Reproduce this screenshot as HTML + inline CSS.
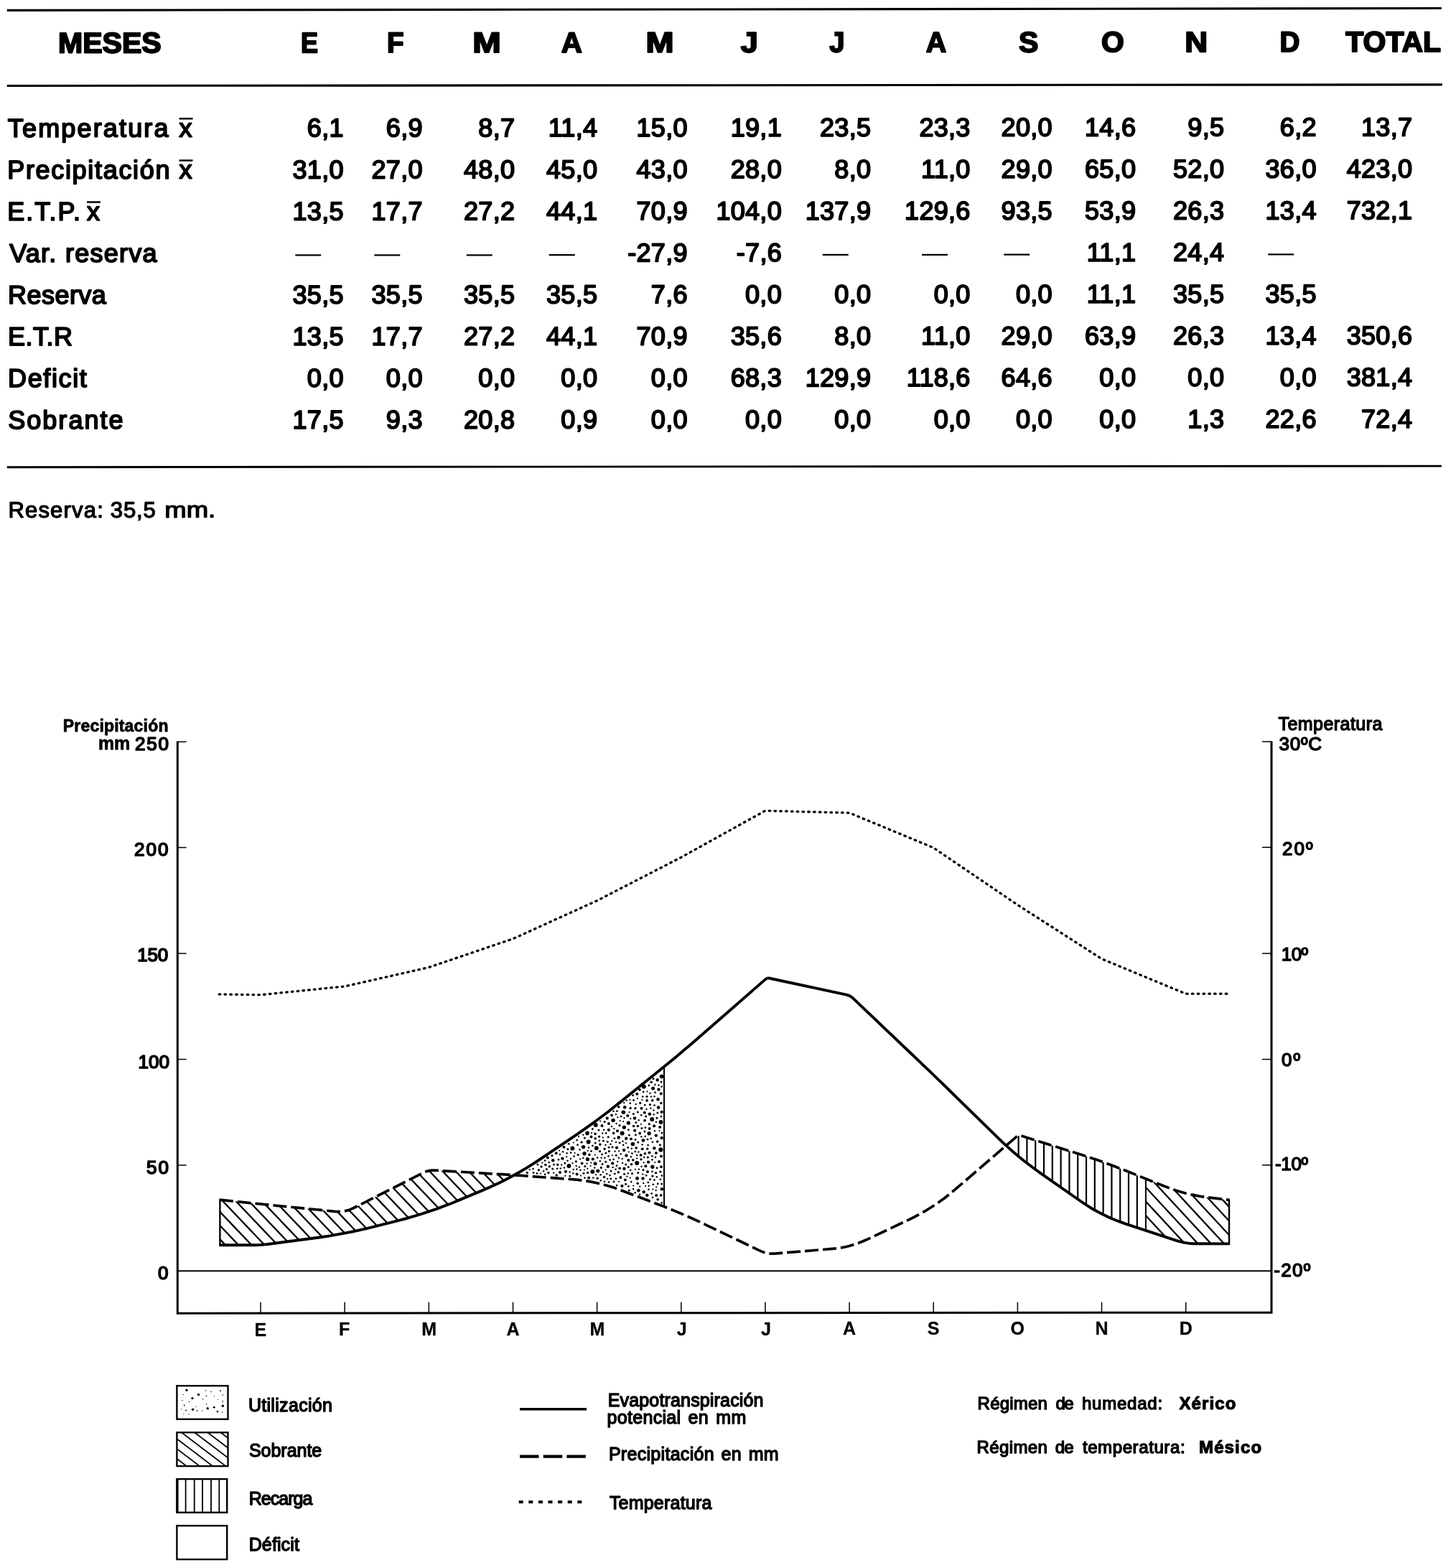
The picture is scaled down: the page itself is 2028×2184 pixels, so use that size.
<!DOCTYPE html>
<html lang="es">
<head>
<meta charset="utf-8">
<title>Balance hídrico</title>
<style>
html,body{margin:0;padding:0;background:#fff;}
body{width:2028px;height:2184px;overflow:hidden;}
svg{display:block;font-family:"Liberation Sans",sans-serif;fill:#000;}
text{white-space:pre;}
</style>
</head>
<body>
<svg width="2028" height="2184" viewBox="0 0 2028 2184" role="img" aria-label="Balance hídrico: tabla mensual y diagrama de precipitación, evapotranspiración y temperatura">
<rect width="2028" height="2184" fill="#fff"/>
<g id="tabla" transform="matrix(1 -0.0008 0 1 0 0.12)">
<polygon points="9.8,12.7 2007.8,11.5 2007.8,14.6 9.8,15.8" fill="#000"/>
<rect x="9.8" y="117.85" width="1999" height="3.1" fill="#000"/>
<rect x="9.8" y="649.15" width="1998" height="2.9" fill="#000"/>
<text transform="translate(80.95 73.4) scale(1.0270 1)" font-size="40" font-weight="bold" stroke="#000" stroke-width="2.0" stroke-linejoin="round">MESES</text>
<text transform="translate(419.00 73.4) scale(0.9000 1)" font-size="40" font-weight="bold" stroke="#000" stroke-width="2.0" stroke-linejoin="round">E</text>
<text transform="translate(538.97 73.4) scale(0.9636 1)" font-size="40" font-weight="bold" stroke="#000" stroke-width="2.0" stroke-linejoin="round">F</text>
<text transform="translate(658.23 73.4) scale(1.1867 1)" font-size="40" font-weight="bold" stroke="#000" stroke-width="2.0" stroke-linejoin="round">M</text>
<text transform="translate(781.80 73.4) scale(1.0069 1)" font-size="40" font-weight="bold" stroke="#000" stroke-width="2.0" stroke-linejoin="round">A</text>
<text transform="translate(899.55 73.4) scale(1.1733 1)" font-size="40" font-weight="bold" stroke="#000" stroke-width="2.0" stroke-linejoin="round">M</text>
<text transform="translate(1031.80 73.4) scale(1.0810 1)" font-size="40" font-weight="bold" stroke="#000" stroke-width="2.0" stroke-linejoin="round">J</text>
<text transform="translate(1155.20 73.4) scale(0.9571 1)" font-size="40" font-weight="bold" stroke="#000" stroke-width="2.0" stroke-linejoin="round">J</text>
<text transform="translate(1289.80 73.4) scale(0.9862 1)" font-size="40" font-weight="bold" stroke="#000" stroke-width="2.0" stroke-linejoin="round">A</text>
<text transform="translate(1418.90 73.4) scale(1.0231 1)" font-size="40" font-weight="bold" stroke="#000" stroke-width="2.0" stroke-linejoin="round">S</text>
<text transform="translate(1533.88 73.4) scale(1.0207 1)" font-size="40" font-weight="bold" stroke="#000" stroke-width="2.0" stroke-linejoin="round">O</text>
<text transform="translate(1650.19 73.4) scale(1.1040 1)" font-size="40" font-weight="bold" stroke="#000" stroke-width="2.0" stroke-linejoin="round">N</text>
<text transform="translate(1782.47 73.4) scale(0.9654 1)" font-size="40" font-weight="bold" stroke="#000" stroke-width="2.0" stroke-linejoin="round">D</text>
<text transform="translate(1874.32 73.4) scale(1.0238 1)" font-size="40" font-weight="bold" stroke="#000" stroke-width="2.0" stroke-linejoin="round">TOTAL</text>
<text x="10.80" y="190.6" font-size="36" stroke="#000" stroke-width="1.9" stroke-linejoin="round" style="letter-spacing:2.160px">Temperatura</text>
<text x="249.50" y="190.6" font-size="36" stroke="#000" stroke-width="1.9" stroke-linejoin="round">x</text>
<rect x="249.5" y="164.2" width="19" height="2.5" fill="#000"/>
<text x="478.8" y="190.6" font-size="36" text-anchor="end" stroke="#000" stroke-width="1.9" stroke-linejoin="round" style="letter-spacing:0.3px">6,1</text>
<text x="588.8" y="190.6" font-size="36" text-anchor="end" stroke="#000" stroke-width="1.9" stroke-linejoin="round" style="letter-spacing:0.3px">6,9</text>
<text x="717.3" y="190.6" font-size="36" text-anchor="end" stroke="#000" stroke-width="1.9" stroke-linejoin="round" style="letter-spacing:0.3px">8,7</text>
<text x="832.3" y="190.6" font-size="36" text-anchor="end" stroke="#000" stroke-width="1.9" stroke-linejoin="round" style="letter-spacing:0.3px">11,4</text>
<text x="957.8" y="190.6" font-size="36" text-anchor="end" stroke="#000" stroke-width="1.9" stroke-linejoin="round" style="letter-spacing:0.3px">15,0</text>
<text x="1089.0" y="190.6" font-size="36" text-anchor="end" stroke="#000" stroke-width="1.9" stroke-linejoin="round" style="letter-spacing:0.3px">19,1</text>
<text x="1213.3" y="190.6" font-size="36" text-anchor="end" stroke="#000" stroke-width="1.9" stroke-linejoin="round" style="letter-spacing:0.3px">23,5</text>
<text x="1351.7" y="190.6" font-size="36" text-anchor="end" stroke="#000" stroke-width="1.9" stroke-linejoin="round" style="letter-spacing:0.3px">23,3</text>
<text x="1465.9" y="190.6" font-size="36" text-anchor="end" stroke="#000" stroke-width="1.9" stroke-linejoin="round" style="letter-spacing:0.3px">20,0</text>
<text x="1582.3" y="190.6" font-size="36" text-anchor="end" stroke="#000" stroke-width="1.9" stroke-linejoin="round" style="letter-spacing:0.3px">14,6</text>
<text x="1705.3" y="190.6" font-size="36" text-anchor="end" stroke="#000" stroke-width="1.9" stroke-linejoin="round" style="letter-spacing:0.3px">9,5</text>
<text x="1833.8" y="190.6" font-size="36" text-anchor="end" stroke="#000" stroke-width="1.9" stroke-linejoin="round" style="letter-spacing:0.3px">6,2</text>
<text x="1967.3" y="190.6" font-size="36" text-anchor="end" stroke="#000" stroke-width="1.9" stroke-linejoin="round" style="letter-spacing:0.3px">13,7</text>
<text x="10.20" y="248.7" font-size="36" stroke="#000" stroke-width="1.9" stroke-linejoin="round" style="letter-spacing:1.683px">Precipitación</text>
<text x="249.50" y="248.7" font-size="36" stroke="#000" stroke-width="1.9" stroke-linejoin="round">x</text>
<rect x="249.5" y="222.3" width="19" height="2.5" fill="#000"/>
<text x="478.8" y="248.7" font-size="36" text-anchor="end" stroke="#000" stroke-width="1.9" stroke-linejoin="round" style="letter-spacing:0.3px">31,0</text>
<text x="588.8" y="248.7" font-size="36" text-anchor="end" stroke="#000" stroke-width="1.9" stroke-linejoin="round" style="letter-spacing:0.3px">27,0</text>
<text x="717.3" y="248.7" font-size="36" text-anchor="end" stroke="#000" stroke-width="1.9" stroke-linejoin="round" style="letter-spacing:0.3px">48,0</text>
<text x="832.3" y="248.7" font-size="36" text-anchor="end" stroke="#000" stroke-width="1.9" stroke-linejoin="round" style="letter-spacing:0.3px">45,0</text>
<text x="957.8" y="248.7" font-size="36" text-anchor="end" stroke="#000" stroke-width="1.9" stroke-linejoin="round" style="letter-spacing:0.3px">43,0</text>
<text x="1089.0" y="248.7" font-size="36" text-anchor="end" stroke="#000" stroke-width="1.9" stroke-linejoin="round" style="letter-spacing:0.3px">28,0</text>
<text x="1213.3" y="248.7" font-size="36" text-anchor="end" stroke="#000" stroke-width="1.9" stroke-linejoin="round" style="letter-spacing:0.3px">8,0</text>
<text x="1351.7" y="248.7" font-size="36" text-anchor="end" stroke="#000" stroke-width="1.9" stroke-linejoin="round" style="letter-spacing:0.3px">11,0</text>
<text x="1465.9" y="248.7" font-size="36" text-anchor="end" stroke="#000" stroke-width="1.9" stroke-linejoin="round" style="letter-spacing:0.3px">29,0</text>
<text x="1582.3" y="248.7" font-size="36" text-anchor="end" stroke="#000" stroke-width="1.9" stroke-linejoin="round" style="letter-spacing:0.3px">65,0</text>
<text x="1705.3" y="248.7" font-size="36" text-anchor="end" stroke="#000" stroke-width="1.9" stroke-linejoin="round" style="letter-spacing:0.3px">52,0</text>
<text x="1833.8" y="248.7" font-size="36" text-anchor="end" stroke="#000" stroke-width="1.9" stroke-linejoin="round" style="letter-spacing:0.3px">36,0</text>
<text x="1967.3" y="248.7" font-size="36" text-anchor="end" stroke="#000" stroke-width="1.9" stroke-linejoin="round" style="letter-spacing:0.3px">423,0</text>
<text x="10.20" y="306.7" font-size="36" stroke="#000" stroke-width="1.9" stroke-linejoin="round" style="letter-spacing:2.080px">E.T.P.</text>
<text x="121.00" y="306.7" font-size="36" stroke="#000" stroke-width="1.9" stroke-linejoin="round">x</text>
<rect x="121" y="280.3" width="19" height="2.5" fill="#000"/>
<text x="478.8" y="306.7" font-size="36" text-anchor="end" stroke="#000" stroke-width="1.9" stroke-linejoin="round" style="letter-spacing:0.3px">13,5</text>
<text x="588.8" y="306.7" font-size="36" text-anchor="end" stroke="#000" stroke-width="1.9" stroke-linejoin="round" style="letter-spacing:0.3px">17,7</text>
<text x="717.3" y="306.7" font-size="36" text-anchor="end" stroke="#000" stroke-width="1.9" stroke-linejoin="round" style="letter-spacing:0.3px">27,2</text>
<text x="832.3" y="306.7" font-size="36" text-anchor="end" stroke="#000" stroke-width="1.9" stroke-linejoin="round" style="letter-spacing:0.3px">44,1</text>
<text x="957.8" y="306.7" font-size="36" text-anchor="end" stroke="#000" stroke-width="1.9" stroke-linejoin="round" style="letter-spacing:0.3px">70,9</text>
<text x="1089.0" y="306.7" font-size="36" text-anchor="end" stroke="#000" stroke-width="1.9" stroke-linejoin="round" style="letter-spacing:0.3px">104,0</text>
<text x="1213.3" y="306.7" font-size="36" text-anchor="end" stroke="#000" stroke-width="1.9" stroke-linejoin="round" style="letter-spacing:0.3px">137,9</text>
<text x="1351.7" y="306.7" font-size="36" text-anchor="end" stroke="#000" stroke-width="1.9" stroke-linejoin="round" style="letter-spacing:0.3px">129,6</text>
<text x="1465.9" y="306.7" font-size="36" text-anchor="end" stroke="#000" stroke-width="1.9" stroke-linejoin="round" style="letter-spacing:0.3px">93,5</text>
<text x="1582.3" y="306.7" font-size="36" text-anchor="end" stroke="#000" stroke-width="1.9" stroke-linejoin="round" style="letter-spacing:0.3px">53,9</text>
<text x="1705.3" y="306.7" font-size="36" text-anchor="end" stroke="#000" stroke-width="1.9" stroke-linejoin="round" style="letter-spacing:0.3px">26,3</text>
<text x="1833.8" y="306.7" font-size="36" text-anchor="end" stroke="#000" stroke-width="1.9" stroke-linejoin="round" style="letter-spacing:0.3px">13,4</text>
<text x="1967.3" y="306.7" font-size="36" text-anchor="end" stroke="#000" stroke-width="1.9" stroke-linejoin="round" style="letter-spacing:0.3px">732,1</text>
<text x="13.20" y="364.8" font-size="36" stroke="#000" stroke-width="1.9" stroke-linejoin="round" style="letter-spacing:1.273px">Var. reserva</text>
<text x="411.20" y="364.8" font-size="36">—</text>
<text x="521.20" y="364.8" font-size="36">—</text>
<text x="649.70" y="364.8" font-size="36">—</text>
<text x="764.70" y="364.8" font-size="36">—</text>
<text x="957.8" y="364.8" font-size="36" text-anchor="end" stroke="#000" stroke-width="1.9" stroke-linejoin="round" style="letter-spacing:0.3px">-27,9</text>
<text x="1089.0" y="364.8" font-size="36" text-anchor="end" stroke="#000" stroke-width="1.9" stroke-linejoin="round" style="letter-spacing:0.3px">-7,6</text>
<text x="1145.70" y="364.8" font-size="36">—</text>
<text x="1284.10" y="364.8" font-size="36">—</text>
<text x="1398.30" y="364.8" font-size="36">—</text>
<text x="1582.3" y="364.8" font-size="36" text-anchor="end" stroke="#000" stroke-width="1.9" stroke-linejoin="round" style="letter-spacing:0.3px">11,1</text>
<text x="1705.3" y="364.8" font-size="36" text-anchor="end" stroke="#000" stroke-width="1.9" stroke-linejoin="round" style="letter-spacing:0.3px">24,4</text>
<text x="1766.20" y="364.8" font-size="36">—</text>
<text x="11.00" y="422.9" font-size="36" stroke="#000" stroke-width="1.9" stroke-linejoin="round" style="letter-spacing:0.467px">Reserva</text>
<text x="478.8" y="422.9" font-size="36" text-anchor="end" stroke="#000" stroke-width="1.9" stroke-linejoin="round" style="letter-spacing:0.3px">35,5</text>
<text x="588.8" y="422.9" font-size="36" text-anchor="end" stroke="#000" stroke-width="1.9" stroke-linejoin="round" style="letter-spacing:0.3px">35,5</text>
<text x="717.3" y="422.9" font-size="36" text-anchor="end" stroke="#000" stroke-width="1.9" stroke-linejoin="round" style="letter-spacing:0.3px">35,5</text>
<text x="832.3" y="422.9" font-size="36" text-anchor="end" stroke="#000" stroke-width="1.9" stroke-linejoin="round" style="letter-spacing:0.3px">35,5</text>
<text x="957.8" y="422.9" font-size="36" text-anchor="end" stroke="#000" stroke-width="1.9" stroke-linejoin="round" style="letter-spacing:0.3px">7,6</text>
<text x="1089.0" y="422.9" font-size="36" text-anchor="end" stroke="#000" stroke-width="1.9" stroke-linejoin="round" style="letter-spacing:0.3px">0,0</text>
<text x="1213.3" y="422.9" font-size="36" text-anchor="end" stroke="#000" stroke-width="1.9" stroke-linejoin="round" style="letter-spacing:0.3px">0,0</text>
<text x="1351.7" y="422.9" font-size="36" text-anchor="end" stroke="#000" stroke-width="1.9" stroke-linejoin="round" style="letter-spacing:0.3px">0,0</text>
<text x="1465.9" y="422.9" font-size="36" text-anchor="end" stroke="#000" stroke-width="1.9" stroke-linejoin="round" style="letter-spacing:0.3px">0,0</text>
<text x="1582.3" y="422.9" font-size="36" text-anchor="end" stroke="#000" stroke-width="1.9" stroke-linejoin="round" style="letter-spacing:0.3px">11,1</text>
<text x="1705.3" y="422.9" font-size="36" text-anchor="end" stroke="#000" stroke-width="1.9" stroke-linejoin="round" style="letter-spacing:0.3px">35,5</text>
<text x="1833.8" y="422.9" font-size="36" text-anchor="end" stroke="#000" stroke-width="1.9" stroke-linejoin="round" style="letter-spacing:0.3px">35,5</text>
<text x="11.00" y="481.0" font-size="36" stroke="#000" stroke-width="1.9" stroke-linejoin="round" style="letter-spacing:0.525px">E.T.R</text>
<text x="478.8" y="481.0" font-size="36" text-anchor="end" stroke="#000" stroke-width="1.9" stroke-linejoin="round" style="letter-spacing:0.3px">13,5</text>
<text x="588.8" y="481.0" font-size="36" text-anchor="end" stroke="#000" stroke-width="1.9" stroke-linejoin="round" style="letter-spacing:0.3px">17,7</text>
<text x="717.3" y="481.0" font-size="36" text-anchor="end" stroke="#000" stroke-width="1.9" stroke-linejoin="round" style="letter-spacing:0.3px">27,2</text>
<text x="832.3" y="481.0" font-size="36" text-anchor="end" stroke="#000" stroke-width="1.9" stroke-linejoin="round" style="letter-spacing:0.3px">44,1</text>
<text x="957.8" y="481.0" font-size="36" text-anchor="end" stroke="#000" stroke-width="1.9" stroke-linejoin="round" style="letter-spacing:0.3px">70,9</text>
<text x="1089.0" y="481.0" font-size="36" text-anchor="end" stroke="#000" stroke-width="1.9" stroke-linejoin="round" style="letter-spacing:0.3px">35,6</text>
<text x="1213.3" y="481.0" font-size="36" text-anchor="end" stroke="#000" stroke-width="1.9" stroke-linejoin="round" style="letter-spacing:0.3px">8,0</text>
<text x="1351.7" y="481.0" font-size="36" text-anchor="end" stroke="#000" stroke-width="1.9" stroke-linejoin="round" style="letter-spacing:0.3px">11,0</text>
<text x="1465.9" y="481.0" font-size="36" text-anchor="end" stroke="#000" stroke-width="1.9" stroke-linejoin="round" style="letter-spacing:0.3px">29,0</text>
<text x="1582.3" y="481.0" font-size="36" text-anchor="end" stroke="#000" stroke-width="1.9" stroke-linejoin="round" style="letter-spacing:0.3px">63,9</text>
<text x="1705.3" y="481.0" font-size="36" text-anchor="end" stroke="#000" stroke-width="1.9" stroke-linejoin="round" style="letter-spacing:0.3px">26,3</text>
<text x="1833.8" y="481.0" font-size="36" text-anchor="end" stroke="#000" stroke-width="1.9" stroke-linejoin="round" style="letter-spacing:0.3px">13,4</text>
<text x="1967.3" y="481.0" font-size="36" text-anchor="end" stroke="#000" stroke-width="1.9" stroke-linejoin="round" style="letter-spacing:0.3px">350,6</text>
<text x="11.00" y="539.0" font-size="36" stroke="#000" stroke-width="1.9" stroke-linejoin="round" style="letter-spacing:1.633px">Deficit</text>
<text x="478.8" y="539.0" font-size="36" text-anchor="end" stroke="#000" stroke-width="1.9" stroke-linejoin="round" style="letter-spacing:0.3px">0,0</text>
<text x="588.8" y="539.0" font-size="36" text-anchor="end" stroke="#000" stroke-width="1.9" stroke-linejoin="round" style="letter-spacing:0.3px">0,0</text>
<text x="717.3" y="539.0" font-size="36" text-anchor="end" stroke="#000" stroke-width="1.9" stroke-linejoin="round" style="letter-spacing:0.3px">0,0</text>
<text x="832.3" y="539.0" font-size="36" text-anchor="end" stroke="#000" stroke-width="1.9" stroke-linejoin="round" style="letter-spacing:0.3px">0,0</text>
<text x="957.8" y="539.0" font-size="36" text-anchor="end" stroke="#000" stroke-width="1.9" stroke-linejoin="round" style="letter-spacing:0.3px">0,0</text>
<text x="1089.0" y="539.0" font-size="36" text-anchor="end" stroke="#000" stroke-width="1.9" stroke-linejoin="round" style="letter-spacing:0.3px">68,3</text>
<text x="1213.3" y="539.0" font-size="36" text-anchor="end" stroke="#000" stroke-width="1.9" stroke-linejoin="round" style="letter-spacing:0.3px">129,9</text>
<text x="1351.7" y="539.0" font-size="36" text-anchor="end" stroke="#000" stroke-width="1.9" stroke-linejoin="round" style="letter-spacing:0.3px">118,6</text>
<text x="1465.9" y="539.0" font-size="36" text-anchor="end" stroke="#000" stroke-width="1.9" stroke-linejoin="round" style="letter-spacing:0.3px">64,6</text>
<text x="1582.3" y="539.0" font-size="36" text-anchor="end" stroke="#000" stroke-width="1.9" stroke-linejoin="round" style="letter-spacing:0.3px">0,0</text>
<text x="1705.3" y="539.0" font-size="36" text-anchor="end" stroke="#000" stroke-width="1.9" stroke-linejoin="round" style="letter-spacing:0.3px">0,0</text>
<text x="1833.8" y="539.0" font-size="36" text-anchor="end" stroke="#000" stroke-width="1.9" stroke-linejoin="round" style="letter-spacing:0.3px">0,0</text>
<text x="1967.3" y="539.0" font-size="36" text-anchor="end" stroke="#000" stroke-width="1.9" stroke-linejoin="round" style="letter-spacing:0.3px">381,4</text>
<text x="11.20" y="597.1" font-size="36" stroke="#000" stroke-width="1.9" stroke-linejoin="round" style="letter-spacing:2.043px">Sobrante</text>
<text x="478.8" y="597.1" font-size="36" text-anchor="end" stroke="#000" stroke-width="1.9" stroke-linejoin="round" style="letter-spacing:0.3px">17,5</text>
<text x="588.8" y="597.1" font-size="36" text-anchor="end" stroke="#000" stroke-width="1.9" stroke-linejoin="round" style="letter-spacing:0.3px">9,3</text>
<text x="717.3" y="597.1" font-size="36" text-anchor="end" stroke="#000" stroke-width="1.9" stroke-linejoin="round" style="letter-spacing:0.3px">20,8</text>
<text x="832.3" y="597.1" font-size="36" text-anchor="end" stroke="#000" stroke-width="1.9" stroke-linejoin="round" style="letter-spacing:0.3px">0,9</text>
<text x="957.8" y="597.1" font-size="36" text-anchor="end" stroke="#000" stroke-width="1.9" stroke-linejoin="round" style="letter-spacing:0.3px">0,0</text>
<text x="1089.0" y="597.1" font-size="36" text-anchor="end" stroke="#000" stroke-width="1.9" stroke-linejoin="round" style="letter-spacing:0.3px">0,0</text>
<text x="1213.3" y="597.1" font-size="36" text-anchor="end" stroke="#000" stroke-width="1.9" stroke-linejoin="round" style="letter-spacing:0.3px">0,0</text>
<text x="1351.7" y="597.1" font-size="36" text-anchor="end" stroke="#000" stroke-width="1.9" stroke-linejoin="round" style="letter-spacing:0.3px">0,0</text>
<text x="1465.9" y="597.1" font-size="36" text-anchor="end" stroke="#000" stroke-width="1.9" stroke-linejoin="round" style="letter-spacing:0.3px">0,0</text>
<text x="1582.3" y="597.1" font-size="36" text-anchor="end" stroke="#000" stroke-width="1.9" stroke-linejoin="round" style="letter-spacing:0.3px">0,0</text>
<text x="1705.3" y="597.1" font-size="36" text-anchor="end" stroke="#000" stroke-width="1.9" stroke-linejoin="round" style="letter-spacing:0.3px">1,3</text>
<text x="1833.8" y="597.1" font-size="36" text-anchor="end" stroke="#000" stroke-width="1.9" stroke-linejoin="round" style="letter-spacing:0.3px">22,6</text>
<text x="1967.3" y="597.1" font-size="36" text-anchor="end" stroke="#000" stroke-width="1.9" stroke-linejoin="round" style="letter-spacing:0.3px">72,4</text>
<text x="11.40" y="720.7" font-size="31" stroke="#000" stroke-width="1.3" stroke-linejoin="round" style="letter-spacing:1.200px">Reserva:</text>
<text x="153.80" y="720.7" font-size="31" stroke="#000" stroke-width="1.3" stroke-linejoin="round" style="letter-spacing:0.900px">35,5</text>
<text transform="translate(229.32 720.7) scale(1.1772 1)" font-size="31" stroke="#000" stroke-width="1.3" stroke-linejoin="round">mm.</text>
</g>
<g id="grafico">
<defs><clipPath id="cs1"><polygon points="305.8,1671.2 334.4,1674.1 341.6,1674.8 348.8,1675.6 356.0,1676.3 363.3,1677.0 370.6,1677.8 378.0,1678.5 385.4,1679.3 392.8,1680.0 466.2,1687.4 469.7,1687.6 473.1,1687.6 476.5,1687.4 479.8,1686.9 483.1,1686.1 486.3,1685.2 489.5,1683.9 492.6,1682.5 590.2,1633.2 592.0,1632.4 593.8,1631.7 595.6,1631.1 597.5,1630.6 599.4,1630.3 601.3,1630.1 603.3,1630.0 605.3,1630.1 684.5,1634.8 692.0,1635.3 699.5,1635.7 707.0,1636.2 714.4,1636.7 716.0,1636.8 716.0,1636.8 713.4,1638.3 703.5,1643.5 693.4,1648.4 683.3,1653.1 672.9,1657.6 638.8,1671.9 628.4,1676.2 617.9,1680.2 607.4,1684.1 596.8,1687.7 586.1,1691.2 575.4,1694.4 564.6,1697.5 553.7,1700.4 523.8,1707.9 512.8,1710.6 501.9,1713.1 490.9,1715.5 479.9,1717.7 468.9,1719.7 457.8,1721.6 446.7,1723.3 435.5,1724.8 370.9,1733.2 368.9,1733.4 367.0,1733.6 365.0,1733.8 363.0,1733.9 361.0,1734.1 359.0,1734.1 357.0,1734.2 355.0,1734.2 305.8,1734.2"/></clipPath><clipPath id="cs2"><polygon points="1595.9,1641.8 1623.8,1653.0 1630.8,1655.6 1637.8,1658.1 1645.0,1660.3 1652.1,1662.2 1659.4,1663.9 1666.7,1665.4 1674.0,1666.7 1681.4,1667.7 1712.3,1671.4 1712.3,1732.4 1665.6,1732.2 1662.2,1732.2 1658.7,1732.0 1655.2,1731.6 1651.8,1731.1 1648.4,1730.5 1645.0,1729.7 1641.7,1728.8 1638.4,1727.8 1595.9,1713.8"/></clipPath><clipPath id="cr"><polygon points="1401.4,1595.6 1414.8,1584.1 1415.8,1583.3 1416.8,1582.7 1417.8,1582.3 1418.8,1582.0 1419.9,1581.8 1421.0,1581.8 1422.2,1582.0 1423.4,1582.3 1505.9,1608.3 1513.0,1610.6 1520.1,1612.9 1527.2,1615.3 1534.3,1617.8 1541.4,1620.4 1548.4,1623.0 1555.4,1625.7 1562.4,1628.4 1595.9,1641.8 1595.9,1713.8 1567.7,1704.6 1559.5,1701.7 1551.4,1698.5 1543.5,1695.1 1535.6,1691.3 1528.0,1687.3 1520.4,1683.0 1513.1,1678.4 1505.8,1673.5 1450.1,1634.6 1442.0,1628.8 1434.0,1622.8 1426.1,1616.7 1418.4,1610.4 1410.8,1604.0 1403.3,1597.4 1401.4,1595.6"/></clipPath></defs>
<path clip-path="url(#cs1)" d="M168.0 1600.0L320.4 1760.0M186.2 1600.0L338.6 1760.0M204.4 1600.0L356.8 1760.0M222.6 1600.0L375.0 1760.0M240.8 1600.0L393.2 1760.0M259.0 1600.0L411.4 1760.0M277.2 1600.0L429.6 1760.0M295.4 1600.0L447.8 1760.0M313.6 1600.0L466.0 1760.0M331.8 1600.0L484.2 1760.0M350.0 1600.0L502.4 1760.0M368.2 1600.0L520.6 1760.0M386.4 1600.0L538.8 1760.0M404.6 1600.0L557.0 1760.0M422.8 1600.0L575.2 1760.0M441.0 1600.0L593.4 1760.0M459.2 1600.0L611.6 1760.0M477.4 1600.0L629.8 1760.0M495.6 1600.0L648.0 1760.0M513.8 1600.0L666.2 1760.0M532.0 1600.0L684.4 1760.0M550.2 1600.0L702.6 1760.0M568.4 1600.0L720.8 1760.0M586.6 1600.0L739.0 1760.0M604.8 1600.0L757.2 1760.0M623.0 1600.0L775.4 1760.0M641.2 1600.0L793.6 1760.0M659.4 1600.0L811.8 1760.0M677.6 1600.0L830.0 1760.0M695.8 1600.0L848.2 1760.0M714.0 1600.0L866.4 1760.0" stroke="#000" stroke-width="2.3" fill="none"/>
<path clip-path="url(#cs2)" d="M1455.1 1600.0L1603.2 1760.0M1473.3 1600.0L1621.4 1760.0M1491.5 1600.0L1639.6 1760.0M1509.7 1600.0L1657.8 1760.0M1527.9 1600.0L1676.0 1760.0M1546.1 1600.0L1694.2 1760.0M1564.3 1600.0L1712.4 1760.0M1582.5 1600.0L1730.6 1760.0M1600.7 1600.0L1748.8 1760.0M1618.9 1600.0L1767.0 1760.0M1637.1 1600.0L1785.2 1760.0M1655.3 1600.0L1803.4 1760.0M1673.5 1600.0L1821.6 1760.0M1691.7 1600.0L1839.8 1760.0M1709.9 1600.0L1858.0 1760.0" stroke="#000" stroke-width="2.3" fill="none"/>
<path clip-path="url(#cr)" d="M1418.6 1560V1760M1430.4 1560V1760M1442.2 1560V1760M1454.0 1560V1760M1465.8 1560V1760M1477.6 1560V1760M1489.4 1560V1760M1501.2 1560V1760M1513.0 1560V1760M1524.8 1560V1760M1536.6 1560V1760M1548.4 1560V1760M1560.2 1560V1760M1572.0 1560V1760M1583.8 1560V1760" stroke="#000" stroke-width="2.2" fill="none"/>
<g fill="#000"><circle cx="812.5" cy="1597.6" r="2.7"/><circle cx="823.6" cy="1603.4" r="1.4"/><circle cx="848.0" cy="1646.5" r="1.3"/><circle cx="852.8" cy="1609.3" r="1.1"/><circle cx="825.8" cy="1614.5" r="2.1"/><circle cx="890.0" cy="1628.6" r="1.2"/><circle cx="875.3" cy="1564.1" r="2.7"/><circle cx="913.6" cy="1657.9" r="1.2"/><circle cx="904.1" cy="1578.7" r="2.7"/><circle cx="877.7" cy="1536.7" r="1.3"/><circle cx="914.8" cy="1639.2" r="1.2"/><circle cx="833.9" cy="1574.0" r="1.5"/><circle cx="916.2" cy="1648.7" r="1.5"/><circle cx="892.9" cy="1614.8" r="1.6"/><circle cx="876.5" cy="1549.1" r="1.1"/><circle cx="913.8" cy="1581.6" r="2.2"/><circle cx="903.7" cy="1651.7" r="1.2"/><circle cx="898.4" cy="1606.7" r="1.8"/><circle cx="769.7" cy="1628.0" r="1.5"/><circle cx="757.1" cy="1631.3" r="1.2"/><circle cx="905.5" cy="1522.8" r="1.2"/><circle cx="918.1" cy="1618.0" r="2.1"/><circle cx="818.5" cy="1633.4" r="1.6"/><circle cx="869.4" cy="1627.8" r="2.2"/><circle cx="792.4" cy="1623.9" r="3.0"/><circle cx="894.7" cy="1600.3" r="1.9"/><circle cx="838.5" cy="1607.9" r="1.4"/><circle cx="920.7" cy="1664.8" r="1.9"/><circle cx="869.0" cy="1602.0" r="2.2"/><circle cx="861.7" cy="1584.4" r="2.3"/><circle cx="782.2" cy="1622.4" r="1.2"/><circle cx="903.1" cy="1618.6" r="2.2"/><circle cx="898.1" cy="1560.7" r="1.9"/><circle cx="889.4" cy="1658.2" r="2.3"/><circle cx="847.2" cy="1583.7" r="1.5"/><circle cx="918.4" cy="1575.0" r="1.1"/><circle cx="887.9" cy="1529.9" r="1.1"/><circle cx="847.8" cy="1573.8" r="2.1"/><circle cx="908.5" cy="1631.7" r="1.3"/><circle cx="797.4" cy="1599.5" r="3.0"/><circle cx="866.4" cy="1651.9" r="2.1"/><circle cx="893.2" cy="1553.2" r="1.3"/><circle cx="832.1" cy="1641.3" r="1.7"/><circle cx="825.3" cy="1631.9" r="2.9"/><circle cx="780.0" cy="1633.1" r="2.0"/><circle cx="915.7" cy="1590.1" r="1.8"/><circle cx="829.2" cy="1585.7" r="1.7"/><circle cx="834.6" cy="1583.1" r="1.7"/><circle cx="829.7" cy="1566.9" r="3.0"/><circle cx="907.1" cy="1507.2" r="1.7"/><circle cx="859.4" cy="1547.6" r="1.4"/><circle cx="743.0" cy="1633.5" r="1.4"/><circle cx="762.9" cy="1612.6" r="2.0"/><circle cx="888.4" cy="1568.5" r="1.8"/><circle cx="802.6" cy="1623.9" r="1.2"/><circle cx="915.7" cy="1504.2" r="2.2"/><circle cx="822.6" cy="1624.0" r="1.1"/><circle cx="814.4" cy="1640.6" r="1.3"/><circle cx="847.9" cy="1564.9" r="2.0"/><circle cx="870.9" cy="1643.4" r="1.9"/><circle cx="901.3" cy="1664.8" r="2.2"/><circle cx="845.1" cy="1635.1" r="1.3"/><circle cx="841.5" cy="1639.4" r="1.6"/><circle cx="911.1" cy="1568.3" r="2.1"/><circle cx="853.0" cy="1597.7" r="1.5"/><circle cx="916.6" cy="1531.2" r="2.3"/><circle cx="866.6" cy="1578.4" r="3.0"/><circle cx="810.6" cy="1620.3" r="1.9"/><circle cx="838.5" cy="1568.1" r="2.0"/><circle cx="878.9" cy="1611.2" r="1.2"/><circle cx="859.0" cy="1598.6" r="2.1"/><circle cx="832.1" cy="1612.5" r="1.3"/><circle cx="884.0" cy="1557.5" r="2.3"/><circle cx="764.7" cy="1619.0" r="1.3"/><circle cx="793.6" cy="1632.5" r="1.2"/><circle cx="904.7" cy="1572.0" r="1.9"/><circle cx="908.9" cy="1667.9" r="1.3"/><circle cx="881.4" cy="1593.5" r="2.8"/><circle cx="898.2" cy="1539.1" r="1.4"/><circle cx="830.8" cy="1599.2" r="2.9"/><circle cx="826.3" cy="1640.6" r="1.3"/><circle cx="887.2" cy="1620.0" r="3.0"/><circle cx="882.5" cy="1568.5" r="1.8"/><circle cx="885.4" cy="1580.7" r="1.5"/><circle cx="904.9" cy="1551.8" r="2.3"/><circle cx="864.7" cy="1607.3" r="1.2"/><circle cx="895.9" cy="1588.4" r="2.3"/><circle cx="891.2" cy="1652.6" r="1.2"/><circle cx="818.0" cy="1578.4" r="2.8"/><circle cx="893.5" cy="1543.8" r="2.0"/><circle cx="887.3" cy="1523.8" r="2.0"/><circle cx="868.3" cy="1549.2" r="2.8"/><circle cx="857.5" cy="1628.7" r="1.3"/><circle cx="889.4" cy="1604.5" r="1.2"/><circle cx="875.4" cy="1652.4" r="1.3"/><circle cx="790.5" cy="1616.7" r="1.3"/><circle cx="902.6" cy="1595.1" r="1.4"/><circle cx="750.4" cy="1629.8" r="1.7"/><circle cx="837.3" cy="1626.4" r="1.6"/><circle cx="856.3" cy="1634.9" r="1.4"/><circle cx="913.9" cy="1606.0" r="1.9"/><circle cx="846.8" cy="1624.8" r="2.2"/><circle cx="854.9" cy="1646.0" r="1.4"/><circle cx="810.1" cy="1590.9" r="1.7"/><circle cx="879.3" cy="1646.1" r="1.3"/><circle cx="835.8" cy="1594.1" r="1.8"/><circle cx="846.2" cy="1590.3" r="1.4"/><circle cx="754.0" cy="1625.0" r="1.7"/><circle cx="874.7" cy="1634.2" r="1.2"/><circle cx="860.3" cy="1556.2" r="1.1"/><circle cx="867.1" cy="1619.9" r="1.2"/><circle cx="895.2" cy="1527.5" r="1.3"/><circle cx="917.1" cy="1542.6" r="2.3"/><circle cx="765.3" cy="1624.7" r="1.7"/><circle cx="755.4" cy="1619.7" r="1.1"/><circle cx="839.2" cy="1578.5" r="1.2"/><circle cx="847.5" cy="1610.4" r="1.3"/><circle cx="917.4" cy="1511.5" r="1.2"/><circle cx="915.8" cy="1550.0" r="1.5"/><circle cx="820.1" cy="1598.4" r="1.2"/><circle cx="871.8" cy="1592.1" r="1.2"/><circle cx="742.5" cy="1628.0" r="1.3"/><circle cx="876.4" cy="1580.9" r="1.5"/><circle cx="882.1" cy="1656.1" r="1.3"/><circle cx="908.7" cy="1532.8" r="1.8"/><circle cx="900.5" cy="1545.0" r="1.2"/><circle cx="793.8" cy="1638.2" r="1.4"/><circle cx="880.5" cy="1634.4" r="1.5"/><circle cx="887.5" cy="1641.2" r="2.5"/><circle cx="794.9" cy="1614.0" r="1.2"/><circle cx="776.7" cy="1622.2" r="1.7"/><circle cx="860.0" cy="1575.2" r="2.0"/><circle cx="842.1" cy="1600.3" r="1.7"/><circle cx="896.0" cy="1629.4" r="1.5"/><circle cx="777.9" cy="1615.2" r="1.4"/><circle cx="921.0" cy="1625.2" r="1.9"/><circle cx="901.1" cy="1532.8" r="1.9"/><circle cx="920.5" cy="1563.0" r="2.9"/><circle cx="802.3" cy="1617.8" r="1.6"/><circle cx="829.2" cy="1592.1" r="1.5"/><circle cx="877.5" cy="1531.8" r="1.1"/><circle cx="911.3" cy="1599.3" r="2.2"/><circle cx="795.1" cy="1605.6" r="1.3"/><circle cx="888.3" cy="1548.9" r="1.5"/><circle cx="908.9" cy="1638.1" r="1.7"/><circle cx="840.3" cy="1589.2" r="1.4"/><circle cx="896.8" cy="1513.6" r="3.0"/><circle cx="863.0" cy="1567.6" r="1.7"/><circle cx="911.9" cy="1575.3" r="1.2"/><circle cx="906.8" cy="1585.8" r="1.3"/><circle cx="814.0" cy="1606.7" r="2.7"/><circle cx="845.8" cy="1557.6" r="2.1"/><circle cx="911.5" cy="1539.6" r="1.4"/><circle cx="818.4" cy="1614.7" r="2.6"/><circle cx="884.9" cy="1543.7" r="1.6"/><circle cx="908.5" cy="1615.3" r="1.4"/><circle cx="895.5" cy="1641.4" r="2.2"/><circle cx="829.1" cy="1579.3" r="1.8"/><circle cx="875.4" cy="1616.0" r="2.0"/><circle cx="836.6" cy="1636.3" r="1.4"/><circle cx="858.3" cy="1609.3" r="1.5"/><circle cx="870.2" cy="1542.2" r="2.3"/><circle cx="853.2" cy="1620.4" r="2.1"/><circle cx="864.4" cy="1640.0" r="2.0"/><circle cx="784.1" cy="1604.3" r="1.2"/><circle cx="891.2" cy="1578.5" r="1.9"/><circle cx="837.6" cy="1612.6" r="1.2"/><circle cx="798.8" cy="1591.5" r="1.1"/><circle cx="921.8" cy="1656.2" r="2.3"/><circle cx="774.7" cy="1606.3" r="2.0"/><circle cx="900.1" cy="1637.3" r="1.4"/><circle cx="902.7" cy="1646.9" r="1.4"/><circle cx="861.3" cy="1632.8" r="1.8"/><circle cx="906.3" cy="1543.6" r="1.2"/><circle cx="880.4" cy="1606.6" r="1.3"/><circle cx="920.4" cy="1601.4" r="3.1"/><circle cx="917.4" cy="1517.4" r="2.2"/><circle cx="770.2" cy="1616.2" r="2.2"/><circle cx="889.8" cy="1560.2" r="1.2"/><circle cx="909.6" cy="1515.9" r="2.5"/><circle cx="771.1" cy="1633.6" r="1.2"/><circle cx="804.5" cy="1594.7" r="1.4"/><circle cx="872.2" cy="1585.7" r="2.2"/><circle cx="872.4" cy="1609.4" r="2.2"/><circle cx="909.0" cy="1590.8" r="1.3"/><circle cx="763.9" cy="1633.5" r="1.7"/><circle cx="734.3" cy="1633.4" r="1.7"/><circle cx="902.0" cy="1631.9" r="2.0"/><circle cx="895.3" cy="1635.6" r="1.2"/><circle cx="919.9" cy="1642.8" r="1.4"/><circle cx="879.8" cy="1599.7" r="1.2"/><circle cx="814.8" cy="1624.6" r="1.5"/><circle cx="885.7" cy="1537.9" r="1.2"/><circle cx="875.4" cy="1573.7" r="1.4"/><circle cx="921.0" cy="1610.6" r="2.0"/><circle cx="914.9" cy="1557.3" r="1.5"/><circle cx="843.7" cy="1618.3" r="1.5"/><circle cx="769.0" cy="1609.6" r="1.6"/><circle cx="829.0" cy="1620.7" r="2.5"/><circle cx="787.9" cy="1631.8" r="2.1"/><circle cx="879.0" cy="1586.3" r="1.9"/><circle cx="916.1" cy="1670.8" r="1.8"/><circle cx="855.4" cy="1572.1" r="1.2"/><circle cx="839.1" cy="1621.5" r="1.4"/><circle cx="859.1" cy="1651.1" r="1.4"/><circle cx="869.5" cy="1557.1" r="1.2"/><circle cx="819.6" cy="1590.5" r="3.0"/><circle cx="807.4" cy="1601.4" r="1.3"/><circle cx="878.2" cy="1629.7" r="1.3"/><circle cx="785.5" cy="1597.7" r="2.0"/><circle cx="891.7" cy="1536.4" r="1.6"/><circle cx="915.0" cy="1626.8" r="1.5"/><circle cx="869.6" cy="1635.3" r="1.5"/><circle cx="904.5" cy="1605.5" r="2.0"/><circle cx="852.0" cy="1553.4" r="1.9"/><circle cx="854.6" cy="1578.4" r="1.8"/><circle cx="921.6" cy="1499.3" r="2.9"/><circle cx="803.6" cy="1635.5" r="2.0"/><circle cx="869.3" cy="1570.2" r="2.6"/><circle cx="919.8" cy="1632.1" r="1.7"/><circle cx="919.4" cy="1594.7" r="1.5"/><circle cx="851.0" cy="1631.0" r="1.5"/><circle cx="860.2" cy="1617.9" r="1.2"/><circle cx="814.4" cy="1585.1" r="1.5"/><circle cx="921.6" cy="1585.0" r="2.2"/><circle cx="875.3" cy="1625.5" r="1.5"/><circle cx="899.3" cy="1624.2" r="2.0"/><circle cx="885.0" cy="1628.9" r="1.1"/><circle cx="888.8" cy="1591.1" r="1.5"/><circle cx="789.6" cy="1606.2" r="1.3"/><circle cx="896.7" cy="1660.3" r="2.2"/><circle cx="893.9" cy="1571.5" r="1.5"/><circle cx="908.2" cy="1558.9" r="3.0"/><circle cx="855.9" cy="1585.6" r="1.4"/><circle cx="878.1" cy="1543.5" r="1.7"/><circle cx="840.0" cy="1632.4" r="1.2"/><circle cx="834.7" cy="1588.7" r="1.3"/><circle cx="850.8" cy="1641.9" r="1.4"/><circle cx="803.7" cy="1588.1" r="1.4"/><circle cx="808.1" cy="1614.4" r="1.1"/><circle cx="832.8" cy="1631.0" r="2.5"/><circle cx="805.1" cy="1608.5" r="1.6"/><circle cx="882.5" cy="1532.5" r="1.4"/><circle cx="896.3" cy="1648.0" r="1.2"/><circle cx="881.7" cy="1525.7" r="1.4"/><circle cx="808.4" cy="1629.8" r="1.3"/><circle cx="812.9" cy="1634.2" r="1.5"/><circle cx="919.1" cy="1569.9" r="1.9"/><circle cx="783.4" cy="1613.6" r="2.2"/><circle cx="854.1" cy="1560.4" r="2.7"/><circle cx="898.9" cy="1570.7" r="1.4"/><circle cx="897.8" cy="1549.7" r="2.0"/><circle cx="909.8" cy="1649.8" r="1.4"/><circle cx="863.1" cy="1591.8" r="1.5"/><circle cx="896.1" cy="1520.8" r="1.4"/><circle cx="902.3" cy="1612.1" r="1.6"/><circle cx="888.2" cy="1648.3" r="1.8"/><circle cx="806.1" cy="1582.9" r="1.1"/><circle cx="908.8" cy="1625.2" r="2.7"/><circle cx="901.5" cy="1520.3" r="1.1"/><circle cx="896.7" cy="1619.3" r="1.1"/><circle cx="792.2" cy="1593.2" r="1.4"/><circle cx="921.7" cy="1548.9" r="2.1"/><circle cx="823.5" cy="1583.4" r="1.9"/><circle cx="843.8" cy="1606.2" r="1.4"/><circle cx="748.9" cy="1622.0" r="1.5"/><circle cx="907.6" cy="1662.4" r="1.3"/><circle cx="884.2" cy="1574.7" r="2.1"/><circle cx="866.7" cy="1614.1" r="1.2"/><circle cx="848.4" cy="1603.5" r="1.6"/><circle cx="887.2" cy="1609.0" r="1.2"/><circle cx="858.0" cy="1590.9" r="1.2"/><circle cx="852.3" cy="1589.2" r="1.1"/><circle cx="881.7" cy="1615.7" r="1.8"/><circle cx="912.6" cy="1521.6" r="1.3"/><circle cx="862.1" cy="1645.8" r="1.1"/><circle cx="859.0" cy="1623.6" r="1.4"/><circle cx="842.1" cy="1562.6" r="1.5"/><circle cx="820.9" cy="1608.4" r="1.8"/><circle cx="869.2" cy="1536.1" r="1.2"/><circle cx="886.2" cy="1598.9" r="1.8"/><circle cx="901.0" cy="1527.3" r="1.6"/><circle cx="910.4" cy="1546.4" r="1.2"/><circle cx="849.4" cy="1637.1" r="1.3"/><circle cx="882.3" cy="1651.6" r="1.1"/><circle cx="803.3" cy="1628.5" r="1.2"/><circle cx="861.8" cy="1541.8" r="1.8"/><circle cx="799.5" cy="1610.6" r="1.3"/><circle cx="825.3" cy="1572.5" r="1.4"/><circle cx="789.2" cy="1611.2" r="1.1"/><circle cx="843.4" cy="1594.7" r="1.2"/><circle cx="911.4" cy="1643.6" r="1.4"/><circle cx="828.6" cy="1608.7" r="1.1"/><circle cx="877.8" cy="1640.6" r="1.1"/><circle cx="903.4" cy="1656.7" r="1.3"/><circle cx="856.5" cy="1603.6" r="1.2"/><circle cx="882.3" cy="1551.5" r="1.5"/><circle cx="908.4" cy="1610.3" r="1.3"/><circle cx="858.6" cy="1565.0" r="1.2"/><circle cx="913.6" cy="1633.7" r="1.6"/><circle cx="835.5" cy="1603.7" r="1.6"/><circle cx="798.7" cy="1629.0" r="1.2"/><circle cx="892.8" cy="1565.8" r="1.1"/><circle cx="904.2" cy="1565.7" r="1.6"/><circle cx="874.6" cy="1598.4" r="1.4"/><circle cx="874.3" cy="1554.0" r="2.1"/><circle cx="920.8" cy="1523.2" r="2.0"/><circle cx="905.5" cy="1538.6" r="1.6"/><circle cx="759.0" cy="1616.5" r="1.3"/><circle cx="836.8" cy="1644.2" r="1.2"/><circle cx="785.9" cy="1626.5" r="1.2"/><circle cx="902.0" cy="1587.0" r="1.5"/><circle cx="899.1" cy="1651.9" r="1.1"/><circle cx="863.7" cy="1561.1" r="1.1"/><circle cx="779.1" cy="1602.6" r="1.1"/><circle cx="841.1" cy="1573.7" r="1.2"/><circle cx="888.7" cy="1633.5" r="1.5"/><circle cx="787.4" cy="1637.8" r="1.1"/><circle cx="858.0" cy="1641.8" r="1.4"/><circle cx="914.2" cy="1665.1" r="2.0"/><circle cx="828.2" cy="1626.5" r="1.2"/><circle cx="879.5" cy="1621.8" r="1.8"/><circle cx="854.5" cy="1547.7" r="1.3"/><circle cx="759.8" cy="1622.5" r="1.8"/><circle cx="825.4" cy="1595.8" r="1.4"/><circle cx="914.0" cy="1562.8" r="1.2"/><circle cx="868.1" cy="1562.0" r="1.1"/><circle cx="813.9" cy="1629.5" r="1.1"/><circle cx="854.6" cy="1614.9" r="1.3"/><circle cx="823.4" cy="1619.6" r="1.1"/><circle cx="903.8" cy="1511.9" r="1.3"/><circle cx="839.8" cy="1584.4" r="1.1"/><circle cx="849.6" cy="1615.6" r="1.4"/><circle cx="892.6" cy="1608.8" r="1.9"/><circle cx="885.9" cy="1563.6" r="1.5"/><circle cx="753.1" cy="1634.5" r="1.1"/><circle cx="893.3" cy="1583.3" r="1.2"/><circle cx="867.5" cy="1589.8" r="1.2"/><circle cx="843.6" cy="1629.3" r="1.1"/><circle cx="842.0" cy="1645.7" r="1.3"/><circle cx="820.1" cy="1640.5" r="2.0"/><circle cx="901.7" cy="1600.2" r="1.6"/><circle cx="905.5" cy="1642.4" r="1.5"/><circle cx="921.8" cy="1675.2" r="1.3"/><circle cx="894.5" cy="1532.0" r="1.1"/><circle cx="771.4" cy="1622.2" r="1.4"/><circle cx="779.9" cy="1608.0" r="1.2"/><circle cx="872.7" cy="1532.7" r="1.3"/><circle cx="921.0" cy="1506.9" r="1.5"/><circle cx="875.8" cy="1604.5" r="1.1"/><circle cx="808.9" cy="1637.6" r="1.1"/><circle cx="776.1" cy="1627.8" r="1.3"/><circle cx="922.0" cy="1578.1" r="1.5"/><circle cx="906.9" cy="1527.4" r="1.2"/><circle cx="868.1" cy="1594.9" r="1.3"/><circle cx="920.9" cy="1536.5" r="1.8"/><circle cx="920.9" cy="1555.1" r="1.4"/><circle cx="909.3" cy="1656.6" r="1.1"/><circle cx="912.9" cy="1611.9" r="1.3"/><circle cx="894.6" cy="1594.2" r="1.2"/><circle cx="851.9" cy="1569.0" r="1.2"/><circle cx="775.2" cy="1637.0" r="1.7"/><circle cx="818.3" cy="1627.7" r="1.1"/><circle cx="898.7" cy="1582.7" r="1.3"/><circle cx="790.8" cy="1600.6" r="1.5"/><circle cx="737.7" cy="1629.1" r="1.2"/><circle cx="836.1" cy="1561.6" r="1.1"/><circle cx="885.1" cy="1587.5" r="1.4"/><circle cx="898.0" cy="1576.0" r="1.5"/><circle cx="876.3" cy="1658.0" r="1.5"/><circle cx="912.2" cy="1619.0" r="1.1"/><circle cx="798.2" cy="1634.2" r="1.2"/><circle cx="848.0" cy="1598.2" r="1.4"/><circle cx="786.8" cy="1619.9" r="1.5"/><circle cx="844.2" cy="1578.4" r="1.3"/><circle cx="921.9" cy="1637.6" r="1.4"/><circle cx="842.3" cy="1612.8" r="1.3"/><circle cx="865.1" cy="1555.1" r="1.4"/><circle cx="890.9" cy="1517.8" r="1.9"/><circle cx="899.6" cy="1555.0" r="1.5"/><circle cx="921.7" cy="1649.0" r="1.5"/><circle cx="897.1" cy="1611.9" r="1.2"/><circle cx="893.6" cy="1624.7" r="1.2"/><circle cx="747.8" cy="1634.4" r="1.3"/><circle cx="835.8" cy="1617.3" r="1.2"/><circle cx="812.2" cy="1580.6" r="1.2"/><circle cx="800.6" cy="1606.1" r="1.1"/><circle cx="910.0" cy="1502.6" r="1.5"/><circle cx="914.2" cy="1653.4" r="1.1"/><circle cx="887.1" cy="1613.4" r="1.1"/><circle cx="911.5" cy="1527.3" r="1.2"/><circle cx="824.1" cy="1578.0" r="1.1"/><circle cx="797.5" cy="1620.1" r="1.2"/><circle cx="761.4" cy="1628.6" r="1.6"/><circle cx="910.7" cy="1552.2" r="1.2"/><circle cx="861.9" cy="1612.8" r="1.2"/><circle cx="921.6" cy="1513.5" r="1.3"/><circle cx="871.6" cy="1649.2" r="1.5"/><circle cx="912.4" cy="1510.7" r="1.2"/><circle cx="850.3" cy="1593.7" r="1.3"/><circle cx="806.9" cy="1625.5" r="1.2"/><circle cx="862.2" cy="1603.2" r="1.1"/><circle cx="817.5" cy="1620.6" r="1.2"/><circle cx="812.3" cy="1612.9" r="1.2"/><circle cx="863.1" cy="1627.2" r="1.8"/><circle cx="871.6" cy="1621.9" r="1.5"/><circle cx="884.7" cy="1604.1" r="1.3"/><circle cx="830.2" cy="1636.2" r="1.1"/><circle cx="878.2" cy="1558.1" r="1.2"/><circle cx="846.1" cy="1641.9" r="1.2"/><circle cx="884.6" cy="1661.2" r="1.3"/><circle cx="873.3" cy="1638.6" r="1.2"/><circle cx="857.9" cy="1552.1" r="1.2"/><circle cx="780.7" cy="1627.5" r="1.2"/><circle cx="891.0" cy="1663.7" r="1.2"/><circle cx="759.1" cy="1635.8" r="1.4"/><circle cx="853.6" cy="1625.9" r="1.2"/><circle cx="818.7" cy="1602.8" r="1.1"/></g>
<path d="M925 1485.7V1680.7M1595.9 1641.8V1713.8" stroke="#000" stroke-width="2" fill="none"/>
<path d="M306.40000000000003 1670.2V1735.7M1712.0 1670.4V1733.9" stroke="#000" stroke-width="2.4" fill="none"/>
<path d="M247.3 1770.2H1771" stroke="#000" stroke-width="2"/>
<path d="M247.3 1032.5V1829.2L1771 1828.2V1032.5" stroke="#000" stroke-width="3.0" fill="none" stroke-linejoin="miter"/>
<path d="M247.3 1033.3H259.6M247.3 1180.6H259.6M247.3 1327.9H259.6M247.3 1475.6H259.6M247.3 1622.9H259.6M1771 1033.0H1758M1771 1180.2H1758M1771 1327.9H1758M1771 1475.6H1758M1771 1622.7H1758M363.0 1829.2V1813.8M480.1 1829.2V1813.8M597.3 1829.2V1813.8M714.5 1829.2V1813.8M831.6 1829.2V1813.8M948.8 1829.2V1813.8M1065.9 1829.2V1813.8M1183.1 1829.2V1813.8M1300.2 1829.2V1813.8M1417.4 1829.2V1813.8M1534.5 1829.2V1813.8M1651.7 1829.2V1813.8" stroke="#000" stroke-width="1.5" fill="none"/>
<polyline points="305.8,1734.2 355.0,1734.2 357.0,1734.2 359.0,1734.1 361.0,1734.1 363.0,1733.9 365.0,1733.8 367.0,1733.6 368.9,1733.4 370.9,1733.2 435.5,1724.8 446.7,1723.3 457.8,1721.6 468.9,1719.7 479.9,1717.7 490.9,1715.5 501.9,1713.1 512.8,1710.6 523.8,1707.9 553.7,1700.4 564.6,1697.5 575.4,1694.4 586.1,1691.2 596.8,1687.7 607.4,1684.1 617.9,1680.2 628.4,1676.2 638.8,1671.9 672.9,1657.6 683.3,1653.1 693.4,1648.4 703.5,1643.5 713.4,1638.3 723.2,1632.8 732.8,1627.1 742.4,1621.2 751.8,1615.0 798.4,1583.6 806.7,1577.9 814.9,1572.2 823.0,1566.4 831.1,1560.5 839.1,1554.5 847.0,1548.5 854.9,1542.3 862.7,1536.1 921.5,1488.5 928.3,1483.0 935.1,1477.4 941.8,1471.9 948.5,1466.2 955.2,1460.6 961.9,1454.9 968.5,1449.2 975.1,1443.5 1066.3,1363.9 1066.9,1363.4 1067.5,1363.0 1068.1,1362.8 1068.8,1362.6 1069.4,1362.4 1070.1,1362.4 1070.8,1362.4 1071.5,1362.5 1179.3,1385.7 1180.5,1386.0 1181.7,1386.4 1182.8,1386.9 1183.9,1387.4 1184.9,1388.0 1185.9,1388.7 1186.9,1389.4 1187.8,1390.2 1271.2,1469.5 1278.4,1476.3 1285.7,1483.3 1292.9,1490.2 1300.1,1497.1 1307.3,1504.1 1314.5,1511.0 1321.6,1518.0 1328.8,1525.0 1388.8,1583.7 1396.0,1590.6 1403.3,1597.4 1410.8,1604.0 1418.4,1610.4 1426.1,1616.7 1434.0,1622.8 1442.0,1628.8 1450.1,1634.6 1505.8,1673.5 1513.1,1678.4 1520.4,1683.0 1528.0,1687.3 1535.6,1691.3 1543.5,1695.1 1551.4,1698.5 1559.5,1701.7 1567.7,1704.6 1638.4,1727.8 1641.7,1728.8 1645.0,1729.7 1648.4,1730.5 1651.8,1731.1 1655.2,1731.6 1658.7,1732.0 1662.2,1732.2 1665.6,1732.2 1712.3,1732.4" stroke="#000" stroke-width="3.9" fill="none" stroke-linejoin="round"/>
<polyline points="305.8,1671.2 334.4,1674.1 341.6,1674.8 348.8,1675.6 356.0,1676.3 363.3,1677.0 370.6,1677.8 378.0,1678.5 385.4,1679.3 392.8,1680.0 466.2,1687.4 469.7,1687.6 473.1,1687.6 476.5,1687.4 479.8,1686.9 483.1,1686.1 486.3,1685.2 489.5,1683.9 492.6,1682.5 590.2,1633.2 592.0,1632.4 593.8,1631.7 595.6,1631.1 597.5,1630.6 599.4,1630.3 601.3,1630.1 603.3,1630.0 605.3,1630.1 684.5,1634.8 692.0,1635.3 699.5,1635.7 707.0,1636.2 714.4,1636.7 721.9,1637.2 729.4,1637.7 736.9,1638.3 744.4,1638.8 796.7,1642.6 805.4,1643.4 814.0,1644.5 822.6,1645.9 831.1,1647.7 839.5,1649.7 847.8,1652.0 856.1,1654.6 864.3,1657.6 911.3,1675.4 920.7,1678.9 930.0,1682.6 939.2,1686.4 948.4,1690.3 957.6,1694.3 966.7,1698.3 975.8,1702.5 984.8,1706.8 1059.6,1742.6 1061.9,1743.6 1064.1,1744.4 1066.5,1745.1 1068.8,1745.6 1071.2,1746.0 1073.6,1746.2 1076.1,1746.2 1078.6,1746.1 1159.3,1739.4 1165.5,1738.8 1171.6,1737.9 1177.6,1736.7 1183.6,1735.3 1189.5,1733.5 1195.4,1731.5 1201.1,1729.3 1206.8,1726.8 1264.0,1699.8 1273.0,1695.4 1281.7,1690.8 1290.3,1685.8 1298.7,1680.5 1306.9,1675.0 1315.0,1669.2 1322.8,1663.1 1330.5,1656.7 1414.8,1584.1 1415.8,1583.3 1416.8,1582.7 1417.8,1582.3 1418.8,1582.0 1419.9,1581.8 1421.0,1581.8 1422.2,1582.0 1423.4,1582.3 1505.9,1608.3 1513.0,1610.6 1520.1,1612.9 1527.2,1615.3 1534.3,1617.8 1541.4,1620.4 1548.4,1623.0 1555.4,1625.7 1562.4,1628.4 1623.8,1653.0 1630.8,1655.6 1637.8,1658.1 1645.0,1660.3 1652.1,1662.2 1659.4,1663.9 1666.7,1665.4 1674.0,1666.7 1681.4,1667.7 1712.3,1671.4" stroke="#000" stroke-width="3.7" fill="none" stroke-dasharray="19 6" stroke-linejoin="round"/>
<polyline points="305.2,1384.9 363.0,1385.7 480.1,1373.9 597.3,1347.4 714.5,1307.6 831.6,1254.5 948.8,1194.1 1065.9,1129.2 1183.1,1132.2 1300.2,1180.8 1417.4,1260.4 1534.5,1335.6 1651.7,1384.2 1713.0,1384.2" stroke="#000" stroke-width="3.3" fill="none" stroke-dasharray="1.6 6.2" stroke-linecap="round" stroke-linejoin="round"/>
<text x="87.80" y="1018.5" font-size="23" font-weight="bold" stroke="#000" stroke-width="0.8" stroke-linejoin="round" style="letter-spacing:0.183px">Precipitación</text>
<text transform="translate(136.94 1044.1) scale(0.9591 1)" font-size="26" font-weight="bold" stroke="#000" stroke-width="0.8" stroke-linejoin="round">mm</text>
<text x="187.90" y="1044.6" font-size="26" stroke="#000" stroke-width="1.7" stroke-linejoin="round" style="letter-spacing:1.900px">250</text>
<text x="186.90" y="1191.5" font-size="26" stroke="#000" stroke-width="1.7" stroke-linejoin="round" style="letter-spacing:2.050px">200</text>
<text x="191.20" y="1339.1" font-size="26" stroke="#000" stroke-width="1.7" stroke-linejoin="round" style="letter-spacing:-0.200px">150</text>
<text x="192.50" y="1487.6" font-size="26" stroke="#000" stroke-width="1.7" stroke-linejoin="round" style="letter-spacing:0.100px">100</text>
<text x="203.90" y="1635" font-size="26" stroke="#000" stroke-width="1.7" stroke-linejoin="round" style="letter-spacing:2.100px">50</text>
<text x="220.10" y="1781.5" font-size="26" stroke="#000" stroke-width="1.7" stroke-linejoin="round">0</text>
<text x="1780.50" y="1016.8" font-size="25" stroke="#000" stroke-width="1.4" stroke-linejoin="round" style="letter-spacing:0.450px">Temperatura</text>
<text x="1781.60" y="1044.8" font-size="26" stroke="#000" stroke-width="1.5" stroke-linejoin="round" style="letter-spacing:0.767px">30ºC</text>
<text x="1786.00" y="1191" font-size="26" stroke="#000" stroke-width="1.5" stroke-linejoin="round" style="letter-spacing:2.100px">20º</text>
<text x="1784.70" y="1337.8" font-size="26" stroke="#000" stroke-width="1.5" stroke-linejoin="round" style="letter-spacing:-0.500px">10º</text>
<text x="1785.00" y="1484.5" font-size="26" stroke="#000" stroke-width="1.5" stroke-linejoin="round" style="letter-spacing:2.000px">0º</text>
<text x="1776.00" y="1630" font-size="26" stroke="#000" stroke-width="1.5" stroke-linejoin="round" style="letter-spacing:-0.333px">-10º</text>
<text x="1774.30" y="1777.8" font-size="26" stroke="#000" stroke-width="1.5" stroke-linejoin="round" style="letter-spacing:1.333px">-20º</text>
<text x="354.50" y="1860.5" font-size="25" font-weight="bold" stroke="#000" stroke-width="0.3" stroke-linejoin="round">E</text>
<text x="472.10" y="1860.3" font-size="25" font-weight="bold" stroke="#000" stroke-width="0.3" stroke-linejoin="round">F</text>
<text x="587.30" y="1860.2" font-size="25" font-weight="bold" stroke="#000" stroke-width="0.3" stroke-linejoin="round">M</text>
<text x="705.50" y="1860.0" font-size="25" font-weight="bold" stroke="#000" stroke-width="0.3" stroke-linejoin="round">A</text>
<text x="821.60" y="1859.9" font-size="25" font-weight="bold" stroke="#000" stroke-width="0.3" stroke-linejoin="round">M</text>
<text x="942.80" y="1859.7" font-size="25" font-weight="bold" stroke="#000" stroke-width="0.3" stroke-linejoin="round">J</text>
<text x="1059.90" y="1859.6" font-size="25" font-weight="bold" stroke="#000" stroke-width="0.3" stroke-linejoin="round">J</text>
<text x="1174.10" y="1859.4" font-size="25" font-weight="bold" stroke="#000" stroke-width="0.3" stroke-linejoin="round">A</text>
<text x="1291.70" y="1859.3" font-size="25" font-weight="bold" stroke="#000" stroke-width="0.3" stroke-linejoin="round">S</text>
<text x="1407.40" y="1859.1" font-size="25" font-weight="bold" stroke="#000" stroke-width="0.3" stroke-linejoin="round">O</text>
<text x="1525.50" y="1859.0" font-size="25" font-weight="bold" stroke="#000" stroke-width="0.3" stroke-linejoin="round">N</text>
<text x="1642.70" y="1858.8" font-size="25" font-weight="bold" stroke="#000" stroke-width="0.3" stroke-linejoin="round">D</text>
</g>
<g id="leyenda">
<defs><clipPath id="lb0"><rect x="246.4" y="1930.2" width="71.1" height="46.5"/></clipPath><clipPath id="lb1"><rect x="246.4" y="1995.2" width="71.1" height="46.899999999999864"/></clipPath><clipPath id="lb2"><rect x="246.4" y="2060.1" width="69.79999999999998" height="46.59999999999991"/></clipPath><clipPath id="lb3"><rect x="246.4" y="2125.1" width="69.79999999999998" height="46.90000000000009"/></clipPath></defs>
<g fill="#000"><circle cx="289.2" cy="1961.8" r="1.7"/><circle cx="306.9" cy="1937.2" r="0.9"/><circle cx="298.3" cy="1944.8" r="0.6"/><circle cx="303.7" cy="1949.3" r="0.6"/><circle cx="286.3" cy="1936.7" r="0.7"/><circle cx="276.5" cy="1942.5" r="1.7"/><circle cx="256.7" cy="1957.5" r="0.9"/><circle cx="259.9" cy="1936.3" r="1.7"/><circle cx="252.7" cy="1962.9" r="0.7"/><circle cx="263.1" cy="1969.6" r="0.7"/><circle cx="309.5" cy="1967.0" r="0.8"/><circle cx="253.7" cy="1950.5" r="0.7"/><circle cx="268.0" cy="1947.6" r="1.7"/><circle cx="294.2" cy="1938.5" r="0.8"/><circle cx="263.3" cy="1952.5" r="0.7"/><circle cx="255.8" cy="1969.8" r="0.6"/><circle cx="274.6" cy="1965.2" r="0.9"/><circle cx="255.2" cy="1942.4" r="0.7"/><circle cx="282.7" cy="1948.7" r="0.7"/><circle cx="310.3" cy="1958.2" r="1.7"/><circle cx="281.6" cy="1965.1" r="0.7"/><circle cx="310.1" cy="1951.8" r="0.9"/><circle cx="259.1" cy="1964.6" r="1.0"/><circle cx="268.5" cy="1963.2" r="1.7"/><circle cx="298.2" cy="1960.2" r="1.4"/><circle cx="310.3" cy="1943.1" r="0.8"/><circle cx="273.2" cy="1959.1" r="0.6"/><circle cx="287.3" cy="1944.4" r="0.8"/><circle cx="303.0" cy="1966.1" r="1.4"/><circle cx="287.6" cy="1955.7" r="0.7"/></g>
<path clip-path="url(#lb1)" d="M198.2 1995.2L259.9 2042.1M216.4 1995.2L278.1 2042.1M234.6 1995.2L296.3 2042.1M252.8 1995.2L314.5 2042.1M271.0 1995.2L332.7 2042.1M289.2 1995.2L350.9 2042.1M307.4 1995.2L369.1 2042.1" stroke="#000" stroke-width="1.8" fill="none"/>
<path d="M258.6 2060.1V2106.7M270.7 2060.1V2106.7M282.0 2060.1V2106.7M294.0 2060.1V2106.7M305.3 2060.1V2106.7" stroke="#000" stroke-width="1.8" fill="none"/>
<rect x="246.4" y="1930.2" width="71.1" height="46.5" fill="none" stroke="#000" stroke-width="2.4"/>
<rect x="246.4" y="1995.2" width="71.1" height="46.899999999999864" fill="none" stroke="#000" stroke-width="2.4"/>
<rect x="246.4" y="2060.1" width="69.79999999999998" height="46.59999999999991" fill="none" stroke="#000" stroke-width="2.4"/>
<rect x="246.4" y="2125.1" width="69.79999999999998" height="46.90000000000009" fill="none" stroke="#000" stroke-width="2.4"/>
<path d="M246.9 2060.1V2106.7" stroke="#000" stroke-width="3.4"/>
<text x="345.90" y="1966.3" font-size="25" stroke="#000" stroke-width="1.4" stroke-linejoin="round" style="letter-spacing:0.310px">Utilización</text>
<text x="346.90" y="2029.1" font-size="25" stroke="#000" stroke-width="1.4" stroke-linejoin="round" style="letter-spacing:-0.014px">Sobrante</text>
<text x="346.70" y="2096.1" font-size="25" stroke="#000" stroke-width="1.4" stroke-linejoin="round" style="letter-spacing:-0.950px">Recarga</text>
<text x="346.70" y="2160.2" font-size="25" stroke="#000" stroke-width="1.4" stroke-linejoin="round" style="letter-spacing:0.117px">Déficit</text>
<path d="M724 1962.7H817" stroke="#000" stroke-width="3.6"/>
<path d="M724 2028.6H816" stroke="#000" stroke-width="4.2" stroke-dasharray="26.5 6.2"/>
<path d="M722.7 2092H812" stroke="#000" stroke-width="4" stroke-dasharray="6 7.6"/>
<text x="846.70" y="1958.6" font-size="25" stroke="#000" stroke-width="1.4" stroke-linejoin="round" style="letter-spacing:0.165px">Evapotranspiración</text>
<text x="845.60" y="1982.5" font-size="25" stroke="#000" stroke-width="1.4" stroke-linejoin="round" style="letter-spacing:0.300px">potencial</text>
<text x="958.50" y="1982.5" font-size="25" stroke="#000" stroke-width="1.4" stroke-linejoin="round" style="letter-spacing:0.300px">en</text>
<text x="997.30" y="1982.5" font-size="25" stroke="#000" stroke-width="1.4" stroke-linejoin="round" style="letter-spacing:0.300px">mm</text>
<text x="847.90" y="2034.3" font-size="25" stroke="#000" stroke-width="1.4" stroke-linejoin="round" style="letter-spacing:0.300px">Precipitación</text>
<text x="1004.50" y="2034.3" font-size="25" stroke="#000" stroke-width="1.4" stroke-linejoin="round" style="letter-spacing:0.300px">en</text>
<text x="1042.70" y="2034.3" font-size="25" stroke="#000" stroke-width="1.4" stroke-linejoin="round" style="letter-spacing:0.300px">mm</text>
<text x="848.90" y="2101.8" font-size="25" stroke="#000" stroke-width="1.4" stroke-linejoin="round" style="letter-spacing:0.210px">Temperatura</text>
<text x="1361.60" y="1962.9" font-size="24" stroke="#000" stroke-width="1.4" stroke-linejoin="round" style="letter-spacing:0.217px">Régimen</text>
<text x="1470.50" y="1962.9" font-size="24" stroke="#000" stroke-width="1.4" stroke-linejoin="round" style="letter-spacing:-1.700px">de</text>
<text x="1506.90" y="1962.9" font-size="24" stroke="#000" stroke-width="1.4" stroke-linejoin="round" style="letter-spacing:0.786px">humedad:</text>
<text x="1642.40" y="1962.9" font-size="24" font-weight="bold" stroke="#000" stroke-width="1.2" stroke-linejoin="round" style="letter-spacing:1.120px">Xérico</text>
<text x="1360.40" y="2024.3" font-size="24" stroke="#000" stroke-width="1.4" stroke-linejoin="round" style="letter-spacing:0.417px">Régimen</text>
<text x="1469.80" y="2024.3" font-size="24" stroke="#000" stroke-width="1.4" stroke-linejoin="round" style="letter-spacing:-1.000px">de</text>
<text x="1507.90" y="2024.3" font-size="24" stroke="#000" stroke-width="1.4" stroke-linejoin="round" style="letter-spacing:0.600px">temperatura:</text>
<text x="1670.00" y="2024.3" font-size="24" font-weight="bold" stroke="#000" stroke-width="1.2" stroke-linejoin="round" style="letter-spacing:1.140px">Mésico</text>
</g>
</svg>
</body>
</html>
